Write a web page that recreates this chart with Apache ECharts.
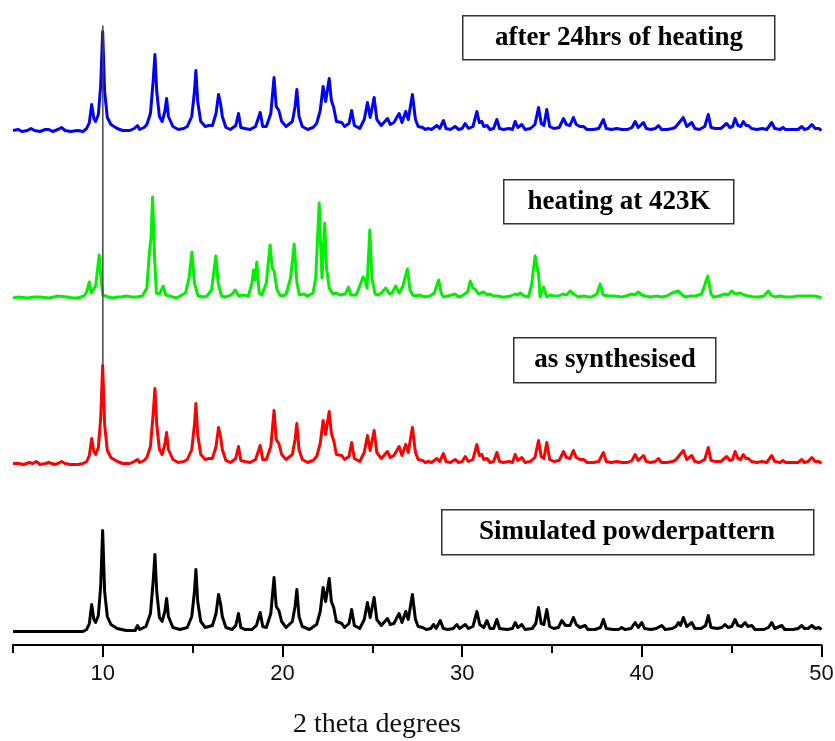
<!DOCTYPE html>
<html>
<head>
<meta charset="utf-8">
<script src="https://cdn.jsdelivr.net/npm/echarts@6/dist/echarts.min.js"></script>
<style>html,body{margin:0;padding:0;background:#fff}#c{width:835px;height:741px}</style>
</head>
<body>
<div id="c"></div>
<script>
// ---- data: [2theta (deg), relative intensity] ----
const simulated = [[5.0,0],[8.9,0],[9.1,2],[9.25,8],[9.38,27],[9.5,12],[9.6,9],[9.75,16],[9.88,45],[9.99,101],[10.1,40],[10.25,15],[10.45,7],[10.8,3],[11.3,1],[11.8,1],[11.93,6],[12.05,2],[12.4,5],[12.65,18],[12.8,50],[12.9,77],[13.0,40],[13.15,14],[13.3,10],[13.45,20],[13.55,33],[13.65,15],[13.9,4],[14.3,2],[14.7,4],[14.95,15],[15.1,40],[15.18,62],[15.28,30],[15.45,10],[15.7,4],[15.9,5],[16.1,6],[16.3,18],[16.44,37],[16.55,28],[16.65,15],[16.85,4],[17.2,2],[17.4,6],[17.55,18],[17.68,4],[17.9,2],[18.3,2],[18.55,6],[18.76,19],[18.9,5],[19.1,4],[19.35,18],[19.53,54],[19.65,25],[19.8,21],[19.95,10],[20.2,4],[20.55,10],[20.7,25],[20.8,42],[20.92,15],[21.1,5],[21.5,2],[21.9,7],[22.1,20],[22.26,44],[22.4,30],[22.6,53],[22.72,30],[22.85,24],[23.0,10],[23.3,8],[23.45,4],[23.7,8],[23.85,22],[24.0,6],[24.3,3],[24.55,12],[24.73,29],[24.88,14],[25.1,34],[25.25,12],[25.5,6],[25.84,13],[26.0,7],[26.2,8],[26.49,18],[26.65,9],[26.86,20],[27.0,12],[27.23,37],[27.4,12],[27.55,5],[27.8,4],[28.0,2],[28.25,3],[28.41,7],[28.55,3],[28.78,11],[28.95,3],[29.2,2],[29.5,3],[29.71,7],[29.85,3],[30.17,7],[30.35,3],[30.6,5],[30.82,20],[30.98,7],[31.2,4],[31.38,11],[31.55,3],[31.75,3],[31.93,12],[32.08,3],[32.5,2],[32.8,3],[32.95,9],[33.1,4],[33.32,7],[33.5,2],[33.9,3],[34.1,8],[34.25,24],[34.4,8],[34.55,7],[34.71,22],[34.87,5],[35.1,3],[35.35,4],[35.55,11],[35.75,6],[36.0,6],[36.19,14],[36.35,7],[36.55,4],[36.84,6],[37.0,2],[37.4,2],[37.7,4],[37.86,12],[38.02,3],[38.4,2],[38.7,2],[38.88,4],[39.05,2],[39.4,3],[39.63,9],[39.8,4],[40.0,9],[40.15,3],[40.5,2],[40.8,3],[41.11,6],[41.3,2],[41.7,3],[41.9,5],[42.04,9],[42.15,6],[42.31,14],[42.5,5],[42.78,9],[42.95,3],[43.3,3],[43.55,6],[43.7,16],[43.85,4],[44.2,3],[44.45,4],[44.63,7],[44.8,4],[45.0,5],[45.19,12],[45.35,6],[45.55,5],[45.75,9],[45.9,5],[46.12,6],[46.3,2],[46.8,2],[47.05,4],[47.23,9],[47.4,3],[47.79,6],[47.95,2],[48.4,2],[48.7,3],[48.9,6],[49.05,3],[49.25,3],[49.46,6],[49.65,3],[49.85,4],[50.0,2]];

const asSynthesised = [[5.0,1],[5.3,1],[5.6,0],[5.9,2],[6.1,1],[6.3,3],[6.5,0],[6.8,1],[7.0,2],[7.3,0],[7.5,1],[7.7,3],[7.9,1],[8.2,0],[8.6,0],[8.9,1],[9.1,3],[9.25,9],[9.38,26],[9.5,13],[9.6,10],[9.75,17],[9.88,46],[9.99,99],[10.1,40],[10.25,14],[10.45,7],[10.8,3],[11.1,1],[11.5,1],[11.75,3],[11.93,5],[12.05,2],[12.3,4],[12.45,7],[12.65,18],[12.8,50],[12.9,76],[13.0,40],[13.15,15],[13.3,10],[13.45,20],[13.55,32],[13.65,15],[13.9,5],[14.2,2],[14.5,3],[14.7,5],[14.95,15],[15.1,40],[15.18,61],[15.28,30],[15.45,10],[15.7,5],[15.9,6],[16.1,6],[16.3,18],[16.44,37],[16.55,28],[16.65,15],[16.85,4],[17.1,2],[17.4,6],[17.55,18],[17.68,4],[17.9,3],[18.2,2],[18.5,5],[18.76,19],[18.9,5],[19.1,5],[19.35,18],[19.53,54],[19.65,25],[19.8,21],[19.95,10],[20.2,5],[20.55,10],[20.7,25],[20.8,41],[20.92,15],[21.1,5],[21.4,2],[21.7,4],[21.9,8],[22.1,21],[22.26,44],[22.4,30],[22.6,53],[22.72,31],[22.85,24],[23.0,10],[23.3,9],[23.45,5],[23.7,8],[23.85,22],[24.0,6],[24.3,3],[24.55,12],[24.73,29],[24.88,14],[25.1,34],[25.25,12],[25.5,6],[25.84,13],[26.0,7],[26.2,9],[26.49,18],[26.65,9],[26.86,20],[27.0,12],[27.23,37],[27.4,12],[27.55,5],[27.8,4],[27.95,2],[28.1,3],[28.3,2],[28.59,6],[28.75,3],[28.96,11],[29.1,3],[29.35,2],[29.61,5],[29.8,2],[30.0,3],[30.17,8],[30.35,3],[30.6,5],[30.82,20],[30.95,9],[31.1,10],[31.2,5],[31.38,6],[31.55,2],[31.75,3],[31.93,12],[32.08,3],[32.3,2],[32.6,3],[32.8,2],[32.95,10],[33.1,4],[33.32,7],[33.5,2],[33.8,3],[34.05,7],[34.25,24],[34.4,8],[34.55,6],[34.71,22],[34.87,5],[35.1,3],[35.4,4],[35.64,13],[35.8,7],[36.0,6],[36.19,14],[36.35,7],[36.55,5],[36.75,5],[36.95,2],[37.3,2],[37.6,3],[37.86,12],[38.02,3],[38.3,2],[38.6,3],[38.9,2],[39.2,2],[39.45,4],[39.63,10],[39.8,4],[40.09,9],[40.25,3],[40.5,2],[40.75,3],[40.92,6],[41.1,2],[41.4,2],[41.7,3],[41.85,4],[42.04,8],[42.15,6],[42.31,14],[42.5,5],[42.78,9],[42.95,3],[43.2,2],[43.5,5],[43.7,17],[43.85,4],[44.1,3],[44.4,3],[44.72,8],[44.9,4],[45.05,5],[45.19,13],[45.35,6],[45.5,5],[45.65,10],[45.8,6],[45.93,6],[46.1,3],[46.4,2],[46.7,3],[46.95,2],[47.23,9],[47.4,3],[47.7,2],[47.85,4],[48.0,2],[48.4,2],[48.7,2],[48.9,5],[49.05,2],[49.25,3],[49.46,7],[49.65,3],[49.85,3],[50.0,1]];

const heating423K = [[5.0,0],[5.3,1],[5.8,0],[6.2,1],[6.5,1],[7.0,0],[7.5,2],[8.0,1],[8.3,0],[8.6,0],[8.95,2],[9.1,6],[9.25,16],[9.35,5],[9.45,3],[9.6,12],[9.8,43],[9.9,18],[10.0,3],[10.3,1],[10.6,0],[10.8,1],[11.0,1],[11.3,2],[11.6,1],[11.9,1],[12.2,2],[12.45,10],[12.58,43],[12.68,60],[12.77,101],[12.88,40],[12.98,5],[13.15,4],[13.36,12],[13.5,3],[13.9,1],[14.1,0],[14.3,2],[14.6,5],[14.8,20],[14.96,46],[15.1,15],[15.3,2],[15.6,1],[15.8,2],[16.05,8],[16.29,42],[16.42,15],[16.6,2],[16.8,1],[17.0,2],[17.2,4],[17.37,8],[17.55,2],[17.8,3],[18.1,2],[18.3,15],[18.39,28],[18.47,18],[18.57,36],[18.7,5],[18.85,3],[19.1,15],[19.31,53],[19.43,30],[19.53,27],[19.7,8],[19.85,3],[20.0,2],[20.2,4],[20.45,20],[20.65,54],[20.8,15],[20.95,3],[21.2,4],[21.35,2],[21.5,3],[21.7,5],[21.85,20],[22.04,95],[22.15,40],[22.2,20],[22.28,50],[22.35,75],[22.45,30],[22.6,10],[22.8,4],[23.0,5],[23.2,3],[23.5,4],[23.67,11],[23.8,3],[24.1,3],[24.3,12],[24.48,21],[24.6,18],[24.7,10],[24.86,68],[24.98,20],[25.15,4],[25.35,3],[25.5,5],[25.75,10],[25.95,4],[26.1,5],[26.3,12],[26.5,5],[26.7,12],[26.95,29],[27.1,8],[27.25,3],[27.39,2],[27.6,3],[27.95,1],[28.2,2],[28.45,5],[28.69,18],[28.85,4],[28.96,1],[29.2,2],[29.4,3],[29.61,4],[29.8,1],[29.98,2],[30.3,6],[30.45,17],[30.6,10],[30.72,9],[30.9,4],[31.05,5],[31.19,6],[31.4,3],[31.55,4],[31.74,2],[32.0,2],[32.2,1],[32.39,1],[32.7,2],[32.95,4],[33.1,3],[33.23,5],[33.45,2],[33.69,1],[33.87,14],[34.06,42],[34.25,24],[34.34,1],[34.53,11],[34.71,1],[34.9,3],[35.1,2],[35.36,2],[35.6,4],[35.8,3],[36.01,7],[36.2,4],[36.47,1],[36.8,2],[37.0,1],[37.21,1],[37.5,4],[37.68,14],[37.85,3],[37.96,1],[38.2,2],[38.5,2],[38.88,1],[39.1,2],[39.44,4],[39.6,3],[39.81,6],[40.0,3],[40.18,2],[40.5,1],[40.8,2],[41.11,1],[41.4,2],[41.67,5],[42.04,7],[42.2,4],[42.41,1],[42.7,2],[43.0,2],[43.33,4],[43.67,22],[43.85,4],[43.98,1],[44.3,2],[44.63,4],[44.8,3],[45.0,7],[45.2,4],[45.47,5],[45.7,3],[45.93,2],[46.2,1],[46.49,1],[46.8,2],[47.04,7],[47.2,3],[47.41,1],[47.7,2],[48.0,1],[48.34,1],[48.7,2],[49.0,2],[49.27,2],[49.6,2],[49.85,1],[50.0,0]];

const after24hrs = [[5.0,1],[5.3,2],[5.5,0],[5.8,1],[6.0,3],[6.2,1],[6.5,0],[6.8,2],[7.0,2],[7.2,0],[7.5,2],[7.7,4],[7.9,1],[8.2,0],[8.6,1],[8.9,0],[9.1,3],[9.25,9],[9.38,27],[9.5,13],[9.6,10],[9.75,17],[9.88,46],[9.99,100],[10.1,40],[10.25,14],[10.45,7],[10.8,3],[11.1,1],[11.5,1],[11.75,3],[11.93,6],[12.05,2],[12.3,4],[12.45,7],[12.65,18],[12.8,50],[12.9,77],[13.0,40],[13.15,15],[13.3,10],[13.45,20],[13.55,33],[13.65,15],[13.9,5],[14.2,2],[14.5,3],[14.7,5],[14.95,15],[15.1,40],[15.18,61],[15.28,30],[15.45,10],[15.7,5],[15.9,6],[16.1,6],[16.3,18],[16.44,37],[16.55,28],[16.65,15],[16.85,4],[17.1,2],[17.4,6],[17.55,18],[17.68,4],[17.9,3],[18.2,2],[18.5,5],[18.76,19],[18.9,5],[19.1,5],[19.35,18],[19.53,54],[19.65,25],[19.8,21],[19.95,10],[20.2,5],[20.55,10],[20.7,25],[20.8,42],[20.92,15],[21.1,5],[21.4,2],[21.7,4],[21.9,8],[22.1,21],[22.26,45],[22.4,30],[22.6,53],[22.72,31],[22.85,24],[23.0,10],[23.3,9],[23.45,5],[23.7,8],[23.85,21],[24.0,6],[24.3,3],[24.55,12],[24.73,29],[24.88,14],[25.1,34],[25.25,12],[25.5,6],[25.84,13],[26.0,7],[26.2,9],[26.49,18],[26.65,9],[26.86,20],[27.0,12],[27.23,37],[27.4,12],[27.55,5],[27.8,4],[27.95,2],[28.1,3],[28.3,2],[28.59,6],[28.75,3],[28.96,11],[29.1,3],[29.35,2],[29.61,5],[29.8,2],[30.0,3],[30.17,8],[30.35,3],[30.6,5],[30.82,20],[30.95,9],[31.1,10],[31.2,5],[31.38,6],[31.55,2],[31.75,3],[31.93,12],[32.08,3],[32.3,2],[32.6,3],[32.8,2],[32.95,10],[33.1,4],[33.32,7],[33.5,2],[33.8,3],[34.05,7],[34.25,24],[34.4,8],[34.55,6],[34.71,22],[34.87,5],[35.1,3],[35.4,4],[35.64,13],[35.8,7],[36.0,6],[36.19,14],[36.35,7],[36.55,5],[36.75,5],[36.95,2],[37.3,2],[37.6,3],[37.86,12],[38.02,3],[38.3,2],[38.6,3],[38.9,2],[39.2,2],[39.45,4],[39.63,10],[39.8,4],[40.09,9],[40.25,3],[40.5,2],[40.75,3],[40.92,6],[41.1,2],[41.4,2],[41.7,3],[41.85,4],[42.04,8],[42.15,6],[42.31,14],[42.5,5],[42.78,9],[42.95,3],[43.2,2],[43.5,5],[43.7,17],[43.85,4],[44.1,3],[44.4,3],[44.72,8],[44.9,4],[45.05,5],[45.19,13],[45.35,6],[45.5,5],[45.65,10],[45.8,6],[45.93,6],[46.1,3],[46.4,2],[46.7,3],[46.95,2],[47.23,9],[47.4,3],[47.7,2],[47.85,4],[48.0,2],[48.4,2],[48.7,2],[48.9,5],[49.05,2],[49.25,3],[49.46,7],[49.65,3],[49.85,3],[50.0,1]];

const seriesNames = ['Simulated powderpattern', 'as synthesised', 'heating at 423K', 'after 24hrs of heating'];
const majorTicks = [10, 20, 30, 40, 50];
const minorTicks = [5, 15, 25, 35, 45];
const refLineX = 10;
const xTitle = '2 theta degrees';

// ---- layout / styling ----
const offsets = [13.5, 180.5, 347, 513.5];
const colors = ['#000000', '#ff0000', '#00f000', '#0000ff'];
const datasets = [simulated, asSynthesised, heating423K, after24hrs];

const chart = echarts.init(document.getElementById('c'), null, {renderer: 'canvas'});

const series = datasets.map((d, i) => ({
  type: 'line',
  name: seriesNames[i],
  data: d.map(p => [p[0], p[1] + offsets[i]]),
  showSymbol: false,
  symbol: 'none',
  lineStyle: {color: colors[i], width: 3, join: 'round'},
  z: 2 + i
}));

const redTop = offsets[1] + Math.max(...asSynthesised.map(p => p[1]));
const blueTop = offsets[3] + Math.max(...after24hrs.map(p => p[1])) + 6;
series.push({
  type: 'line',
  name: 'ref',
  data: [[refLineX, redTop], [refLineX, blueTop]],
  showSymbol: false,
  symbol: 'none',
  lineStyle: {color: '#444', width: 1.5},
  z: 10
});

const boxes = [
  {text: seriesNames[3], x: 462, y: 15, w: 312, h: 44, cx: 619},
  {text: seriesNames[2], x: 503, y: 179, w: 230, h: 44, cx: 619},
  {text: seriesNames[1], x: 513, y: 337, w: 202, h: 45, cx: 615},
  {text: seriesNames[0], x: 441, y: 509, w: 372, h: 45, cx: 627}
];
const graphic = [];
boxes.forEach(b => {
  graphic.push({type: 'rect', left: b.x, top: b.y, shape: {width: b.w, height: b.h},
    style: {fill: '#fff', stroke: '#333', lineWidth: 1.5}, z: 20});
  graphic.push({type: 'text', x: b.cx, y: b.y + b.h / 2 + 1, z: 21,
    style: {text: b.text, font: 'bold 27px "Liberation Serif", "Times New Roman", serif',
      fill: '#000', align: 'center', verticalAlign: 'middle'}});
});
graphic.push({type: 'text', x: 377, y: 725, z: 21,
  style: {text: xTitle, font: '28px "Liberation Serif", "Times New Roman", serif',
    fill: '#111', align: 'center', verticalAlign: 'middle'}});

chart.setOption({
  animation: false,
  backgroundColor: '#fff',
  grid: {left: 13, right: 13.5, top: 10, bottom: 96, containLabel: false, outerBoundsMode: 'none'},
  xAxis: [{
    type: 'value', min: 5, max: 50, position: 'bottom',
    splitLine: {show: false},
    axisLine: {show: true, onZero: false, lineStyle: {color: '#000', width: 2}},
    axisTick: {show: true, length: 12, customValues: majorTicks, lineStyle: {color: '#000', width: 2}},
    axisLabel: {show: true, customValues: majorTicks, margin: 18, fontSize: 22,
      fontFamily: '"Liberation Sans", Arial, sans-serif', color: '#111'}
  }, {
    type: 'value', min: 5, max: 50, position: 'bottom',
    splitLine: {show: false},
    axisLine: {show: false, onZero: false},
    axisTick: {show: true, length: 8, customValues: minorTicks, lineStyle: {color: '#000', width: 2}},
    axisLabel: {show: false}
  }],
  yAxis: {type: 'value', min: 0, max: 635, show: false, splitLine: {show: false}},
  series: series,
  graphic: graphic
});
</script>
</body>
</html>
